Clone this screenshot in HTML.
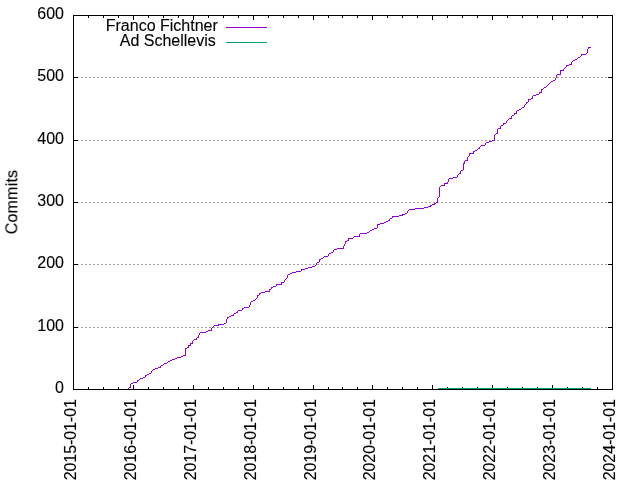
<!DOCTYPE html>
<html lang="en"><head><meta charset="utf-8"><title>Commits</title>
<style>html,body{margin:0;padding:0;background:#fff;overflow:hidden}svg{display:block}</style>
</head><body>
<svg width="640" height="480" viewBox="0 0 640 480">
<rect width="640" height="480" fill="#fff"/>
<g stroke="#a0a0a0" stroke-width="1" stroke-dasharray="2 2" shape-rendering="crispEdges">
<line x1="73" y1="327.5" x2="613" y2="327.5"/>
<line x1="73" y1="264.5" x2="613" y2="264.5"/>
<line x1="73" y1="202.5" x2="613" y2="202.5"/>
<line x1="73" y1="140.5" x2="613" y2="140.5"/>
<line x1="73" y1="77.5" x2="613" y2="77.5"/>
</g>
<g stroke="#000" stroke-width="1" fill="none" shape-rendering="crispEdges">
<rect x="73.5" y="15.5" width="539" height="374"/>
<line x1="73" y1="389.5" x2="78" y2="389.5"/>
<line x1="608" y1="389.5" x2="613" y2="389.5"/>
<line x1="73" y1="327.5" x2="78" y2="327.5"/>
<line x1="608" y1="327.5" x2="613" y2="327.5"/>
<line x1="73" y1="264.5" x2="78" y2="264.5"/>
<line x1="608" y1="264.5" x2="613" y2="264.5"/>
<line x1="73" y1="202.5" x2="78" y2="202.5"/>
<line x1="608" y1="202.5" x2="613" y2="202.5"/>
<line x1="73" y1="140.5" x2="78" y2="140.5"/>
<line x1="608" y1="140.5" x2="613" y2="140.5"/>
<line x1="73" y1="77.5" x2="78" y2="77.5"/>
<line x1="608" y1="77.5" x2="613" y2="77.5"/>
<line x1="73" y1="15.5" x2="78" y2="15.5"/>
<line x1="608" y1="15.5" x2="613" y2="15.5"/>
<line x1="73.5" y1="385" x2="73.5" y2="390"/>
<line x1="73.5" y1="15" x2="73.5" y2="20"/>
<line x1="88.5" y1="387" x2="88.5" y2="390"/>
<line x1="88.5" y1="15" x2="88.5" y2="18"/>
<line x1="103.5" y1="387" x2="103.5" y2="390"/>
<line x1="103.5" y1="15" x2="103.5" y2="18"/>
<line x1="118.5" y1="387" x2="118.5" y2="390"/>
<line x1="118.5" y1="15" x2="118.5" y2="18"/>
<line x1="133.5" y1="385" x2="133.5" y2="390"/>
<line x1="133.5" y1="15" x2="133.5" y2="20"/>
<line x1="148.5" y1="387" x2="148.5" y2="390"/>
<line x1="148.5" y1="15" x2="148.5" y2="18"/>
<line x1="163.5" y1="387" x2="163.5" y2="390"/>
<line x1="163.5" y1="15" x2="163.5" y2="18"/>
<line x1="178.5" y1="387" x2="178.5" y2="390"/>
<line x1="178.5" y1="15" x2="178.5" y2="18"/>
<line x1="193.5" y1="385" x2="193.5" y2="390"/>
<line x1="193.5" y1="15" x2="193.5" y2="20"/>
<line x1="208.5" y1="387" x2="208.5" y2="390"/>
<line x1="208.5" y1="15" x2="208.5" y2="18"/>
<line x1="223.5" y1="387" x2="223.5" y2="390"/>
<line x1="223.5" y1="15" x2="223.5" y2="18"/>
<line x1="238.5" y1="387" x2="238.5" y2="390"/>
<line x1="238.5" y1="15" x2="238.5" y2="18"/>
<line x1="253.5" y1="385" x2="253.5" y2="390"/>
<line x1="253.5" y1="15" x2="253.5" y2="20"/>
<line x1="268.5" y1="387" x2="268.5" y2="390"/>
<line x1="268.5" y1="15" x2="268.5" y2="18"/>
<line x1="283.5" y1="387" x2="283.5" y2="390"/>
<line x1="283.5" y1="15" x2="283.5" y2="18"/>
<line x1="298.5" y1="387" x2="298.5" y2="390"/>
<line x1="298.5" y1="15" x2="298.5" y2="18"/>
<line x1="313.5" y1="385" x2="313.5" y2="390"/>
<line x1="313.5" y1="15" x2="313.5" y2="20"/>
<line x1="328.5" y1="387" x2="328.5" y2="390"/>
<line x1="328.5" y1="15" x2="328.5" y2="18"/>
<line x1="342.5" y1="387" x2="342.5" y2="390"/>
<line x1="342.5" y1="15" x2="342.5" y2="18"/>
<line x1="357.5" y1="387" x2="357.5" y2="390"/>
<line x1="357.5" y1="15" x2="357.5" y2="18"/>
<line x1="372.5" y1="385" x2="372.5" y2="390"/>
<line x1="372.5" y1="15" x2="372.5" y2="20"/>
<line x1="387.5" y1="387" x2="387.5" y2="390"/>
<line x1="387.5" y1="15" x2="387.5" y2="18"/>
<line x1="402.5" y1="387" x2="402.5" y2="390"/>
<line x1="402.5" y1="15" x2="402.5" y2="18"/>
<line x1="417.5" y1="387" x2="417.5" y2="390"/>
<line x1="417.5" y1="15" x2="417.5" y2="18"/>
<line x1="432.5" y1="385" x2="432.5" y2="390"/>
<line x1="432.5" y1="15" x2="432.5" y2="20"/>
<line x1="447.5" y1="387" x2="447.5" y2="390"/>
<line x1="447.5" y1="15" x2="447.5" y2="18"/>
<line x1="462.5" y1="387" x2="462.5" y2="390"/>
<line x1="462.5" y1="15" x2="462.5" y2="18"/>
<line x1="477.5" y1="387" x2="477.5" y2="390"/>
<line x1="477.5" y1="15" x2="477.5" y2="18"/>
<line x1="492.5" y1="385" x2="492.5" y2="390"/>
<line x1="492.5" y1="15" x2="492.5" y2="20"/>
<line x1="507.5" y1="387" x2="507.5" y2="390"/>
<line x1="507.5" y1="15" x2="507.5" y2="18"/>
<line x1="522.5" y1="387" x2="522.5" y2="390"/>
<line x1="522.5" y1="15" x2="522.5" y2="18"/>
<line x1="537.5" y1="387" x2="537.5" y2="390"/>
<line x1="537.5" y1="15" x2="537.5" y2="18"/>
<line x1="552.5" y1="385" x2="552.5" y2="390"/>
<line x1="552.5" y1="15" x2="552.5" y2="20"/>
<line x1="567.5" y1="387" x2="567.5" y2="390"/>
<line x1="567.5" y1="15" x2="567.5" y2="18"/>
<line x1="582.5" y1="387" x2="582.5" y2="390"/>
<line x1="582.5" y1="15" x2="582.5" y2="18"/>
<line x1="597.5" y1="387" x2="597.5" y2="390"/>
<line x1="597.5" y1="15" x2="597.5" y2="18"/>
<line x1="612.5" y1="385" x2="612.5" y2="390"/>
<line x1="612.5" y1="15" x2="612.5" y2="20"/>
</g>
<path d="M438 388h153v1h-153z" fill="#009e73" shape-rendering="crispEdges"/>
<path d="M588 47h3v1h-3zM588 48h1v1h-1zM587 49h1v1h-1zM587 50h1v1h-1zM587 51h1v1h-1zM587 52h1v1h-1zM586 53h1v1h-1zM581 54h5v1h-5zM581 55h1v1h-1zM580 56h1v1h-1zM578 57h2v1h-2zM577 58h1v1h-1zM575 59h2v1h-2zM573 60h2v1h-2zM572 61h1v1h-1zM571 62h1v1h-1zM571 63h1v1h-1zM569 64h3v1h-3zM566 65h3v1h-3zM566 66h1v1h-1zM565 67h1v1h-1zM564 68h1v1h-1zM563 69h1v1h-1zM560 70h4v1h-4zM560 71h1v1h-1zM560 72h1v1h-1zM560 73h1v1h-1zM557 74h4v1h-4zM556 75h1v1h-1zM556 76h1v1h-1zM556 77h1v1h-1zM555 78h1v1h-1zM555 79h1v1h-1zM553 80h2v1h-2zM551 81h2v1h-2zM550 82h1v1h-1zM549 83h1v1h-1zM548 84h1v1h-1zM547 85h1v1h-1zM546 86h1v1h-1zM544 87h2v1h-2zM543 88h1v1h-1zM541 89h2v1h-2zM541 90h1v1h-1zM541 91h1v1h-1zM539 92h3v1h-3zM539 93h1v1h-1zM536 94h3v1h-3zM533 95h3v1h-3zM532 96h1v1h-1zM532 97h1v1h-1zM531 98h2v1h-2zM528 99h3v1h-3zM528 100h1v1h-1zM528 101h1v1h-1zM526 102h2v1h-2zM526 103h1v1h-1zM525 104h1v1h-1zM524 105h1v1h-1zM524 106h1v1h-1zM522 107h2v1h-2zM521 108h1v1h-1zM519 109h2v1h-2zM517 110h2v1h-2zM516 111h1v1h-1zM516 112h1v1h-1zM514 113h3v1h-3zM514 114h1v1h-1zM512 115h2v1h-2zM511 116h1v1h-1zM511 117h1v1h-1zM509 118h3v1h-3zM508 119h1v1h-1zM507 120h1v1h-1zM506 121h1v1h-1zM506 122h1v1h-1zM503 123h3v1h-3zM503 124h1v1h-1zM501 125h2v1h-2zM500 126h1v1h-1zM500 127h1v1h-1zM498 128h3v1h-3zM497 129h1v1h-1zM497 130h1v1h-1zM497 131h1v1h-1zM497 132h1v1h-1zM496 133h2v1h-2zM495 134h1v1h-1zM494 135h1v1h-1zM494 136h1v1h-1zM494 137h1v1h-1zM494 138h1v1h-1zM494 139h1v1h-1zM492 140h3v1h-3zM489 141h3v1h-3zM486 142h3v1h-3zM485 143h1v1h-1zM485 144h1v1h-1zM481 145h4v1h-4zM480 146h1v1h-1zM479 147h1v1h-1zM478 148h2v1h-2zM477 149h1v1h-1zM475 150h2v1h-2zM473 151h2v1h-2zM473 152h1v1h-1zM469 153h5v1h-5zM469 154h1v1h-1zM469 155h1v1h-1zM468 156h1v1h-1zM467 157h1v1h-1zM467 158h1v1h-1zM467 159h1v1h-1zM465 160h3v1h-3zM464 161h1v1h-1zM464 162h1v1h-1zM463 163h2v1h-2zM463 164h1v1h-1zM463 165h1v1h-1zM463 166h1v1h-1zM463 167h1v1h-1zM463 168h1v1h-1zM463 169h1v1h-1zM461 170h2v1h-2zM460 171h1v1h-1zM460 172h1v1h-1zM459 173h2v1h-2zM458 174h1v1h-1zM457 175h1v1h-1zM457 176h1v1h-1zM453 177h4v1h-4zM449 178h4v1h-4zM448 179h1v1h-1zM448 180h1v1h-1zM448 181h1v1h-1zM447 182h1v1h-1zM444 183h4v1h-4zM444 184h1v1h-1zM441 185h4v1h-4zM440 186h1v1h-1zM439 187h1v1h-1zM439 188h1v1h-1zM439 189h1v1h-1zM439 190h1v1h-1zM439 191h1v1h-1zM439 192h1v1h-1zM439 193h1v1h-1zM439 194h1v1h-1zM439 195h1v1h-1zM439 196h1v1h-1zM438 197h1v1h-1zM437 198h1v1h-1zM437 199h1v1h-1zM437 200h1v1h-1zM437 201h1v1h-1zM436 202h2v1h-2zM434 203h2v1h-2zM432 204h3v1h-3zM430 205h2v1h-2zM428 206h3v1h-3zM424 207h4v1h-4zM415 208h9v1h-9zM409 209h6v1h-6zM408 210h1v1h-1zM407 211h1v1h-1zM407 212h1v1h-1zM405 213h2v1h-2zM402 214h3v1h-3zM399 215h4v1h-4zM392 216h7v1h-7zM392 217h1v1h-1zM390 218h2v1h-2zM389 219h1v1h-1zM388 220h2v1h-2zM386 221h2v1h-2zM384 222h2v1h-2zM380 223h4v1h-4zM377 224h3v1h-3zM377 225h1v1h-1zM377 226h1v1h-1zM377 227h1v1h-1zM374 228h3v1h-3zM372 229h2v1h-2zM370 230h2v1h-2zM369 231h1v1h-1zM367 232h2v1h-2zM360 233h7v1h-7zM359 234h1v1h-1zM359 235h1v1h-1zM354 236h6v1h-6zM353 237h1v1h-1zM348 238h5v1h-5zM348 239h1v1h-1zM347 240h2v1h-2zM345 241h2v1h-2zM345 242h1v1h-1zM345 243h1v1h-1zM344 244h1v1h-1zM344 245h1v1h-1zM343 246h1v1h-1zM343 247h1v1h-1zM337 248h7v1h-7zM334 249h3v1h-3zM333 250h1v1h-1zM333 251h1v1h-1zM331 252h2v1h-2zM329 253h2v1h-2zM328 254h1v1h-1zM328 255h1v1h-1zM324 256h4v1h-4zM323 257h1v1h-1zM321 258h2v1h-2zM319 259h2v1h-2zM319 260h1v1h-1zM319 261h1v1h-1zM317 262h2v1h-2zM316 263h1v1h-1zM316 264h1v1h-1zM315 265h1v1h-1zM312 266h3v1h-3zM308 267h4v1h-4zM305 268h3v1h-3zM301 269h4v1h-4zM301 270h1v1h-1zM296 271h5v1h-5zM292 272h4v1h-4zM290 273h2v1h-2zM288 274h2v1h-2zM287 275h1v1h-1zM287 276h1v1h-1zM287 277h1v1h-1zM286 278h1v1h-1zM285 279h1v1h-1zM284 280h1v1h-1zM284 281h1v1h-1zM281 282h3v1h-3zM281 283h1v1h-1zM276 284h6v1h-6zM276 285h1v1h-1zM273 286h3v1h-3zM271 287h2v1h-2zM271 288h1v1h-1zM269 289h2v1h-2zM269 290h1v1h-1zM265 291h5v1h-5zM261 292h4v1h-4zM259 293h2v1h-2zM259 294h1v1h-1zM257 295h2v1h-2zM257 296h1v1h-1zM257 297h1v1h-1zM256 298h1v1h-1zM255 299h1v1h-1zM253 300h2v1h-2zM251 301h2v1h-2zM250 302h1v1h-1zM250 303h1v1h-1zM250 304h1v1h-1zM249 305h1v1h-1zM249 306h1v1h-1zM244 307h5v1h-5zM242 308h2v1h-2zM242 309h1v1h-1zM238 310h4v1h-4zM237 311h1v1h-1zM236 312h2v1h-2zM234 313h2v1h-2zM233 314h1v1h-1zM231 315h3v1h-3zM229 316h2v1h-2zM227 317h2v1h-2zM227 318h1v1h-1zM226 319h1v1h-1zM226 320h1v1h-1zM226 321h1v1h-1zM226 322h1v1h-1zM224 323h2v1h-2zM218 324h6v1h-6zM214 325h5v1h-5zM213 326h1v1h-1zM212 327h1v1h-1zM211 328h1v1h-1zM211 329h1v1h-1zM208 330h4v1h-4zM206 331h2v1h-2zM200 332h6v1h-6zM199 333h1v1h-1zM199 334h1v1h-1zM198 335h1v1h-1zM198 336h1v1h-1zM197 337h2v1h-2zM196 338h1v1h-1zM194 339h3v1h-3zM193 340h1v1h-1zM192 341h1v1h-1zM192 342h1v1h-1zM190 343h3v1h-3zM190 344h1v1h-1zM188 345h3v1h-3zM188 346h1v1h-1zM187 347h2v1h-2zM185 348h2v1h-2zM185 349h1v1h-1zM185 350h1v1h-1zM185 351h1v1h-1zM185 352h1v1h-1zM185 353h1v1h-1zM185 354h1v1h-1zM183 355h3v1h-3zM181 356h2v1h-2zM177 357h4v1h-4zM175 358h2v1h-2zM172 359h3v1h-3zM170 360h2v1h-2zM168 361h2v1h-2zM167 362h1v1h-1zM164 363h3v1h-3zM163 364h1v1h-1zM161 365h2v1h-2zM160 366h1v1h-1zM158 367h3v1h-3zM155 368h3v1h-3zM153 369h2v1h-2zM152 370h1v1h-1zM151 371h1v1h-1zM151 372h1v1h-1zM149 373h2v1h-2zM147 374h2v1h-2zM145 375h2v1h-2zM145 376h1v1h-1zM143 377h2v1h-2zM140 378h3v1h-3zM139 379h1v1h-1zM137 380h2v1h-2zM137 381h1v1h-1zM133 382h4v1h-4zM131 383h2v1h-2zM130 384h1v1h-1zM130 385h1v1h-1zM130 386h1v1h-1zM129 387h2v1h-2zM128 388h1v1h-1z" fill="#9400d3" shape-rendering="crispEdges"/>
<g font-family="&quot;Liberation Sans&quot;, sans-serif" font-size="16" fill="#000" stroke="#000" stroke-width="0.13" opacity="0.999">
<text x="64" y="393.3" text-anchor="end">0</text>
<text x="64" y="331.3" text-anchor="end">100</text>
<text x="64" y="268.3" text-anchor="end">200</text>
<text x="64" y="206.3" text-anchor="end">300</text>
<text x="64" y="144.3" text-anchor="end">400</text>
<text x="64" y="81.3" text-anchor="end">500</text>
<text x="64" y="19.3" text-anchor="end">600</text>
<text transform="translate(76,399.2) rotate(-90)" text-anchor="end" letter-spacing="-0.07">2015-01-01</text>
<text transform="translate(136,399.2) rotate(-90)" text-anchor="end" letter-spacing="-0.07">2016-01-01</text>
<text transform="translate(196,399.2) rotate(-90)" text-anchor="end" letter-spacing="-0.07">2017-01-01</text>
<text transform="translate(256,399.2) rotate(-90)" text-anchor="end" letter-spacing="-0.07">2018-01-01</text>
<text transform="translate(316,399.2) rotate(-90)" text-anchor="end" letter-spacing="-0.07">2019-01-01</text>
<text transform="translate(375,399.2) rotate(-90)" text-anchor="end" letter-spacing="-0.07">2020-01-01</text>
<text transform="translate(435,399.2) rotate(-90)" text-anchor="end" letter-spacing="-0.07">2021-01-01</text>
<text transform="translate(495,399.2) rotate(-90)" text-anchor="end" letter-spacing="-0.07">2022-01-01</text>
<text transform="translate(555,399.2) rotate(-90)" text-anchor="end" letter-spacing="-0.07">2023-01-01</text>
<text transform="translate(615,399.2) rotate(-90)" text-anchor="end" letter-spacing="-0.07">2024-01-01</text>
<text transform="translate(17.3,202) rotate(-90)" text-anchor="middle" letter-spacing="0.22">Commits</text>
<text x="217.8" y="30.6" text-anchor="end">Franco Fichtner</text>
<text x="215.8" y="46" text-anchor="end">Ad Schellevis</text>
</g>
<g stroke-width="1" shape-rendering="crispEdges">
<line x1="226" y1="27.5" x2="267" y2="27.5" stroke="#9400d3"/>
<line x1="226" y1="42.5" x2="267" y2="42.5" stroke="#009e73"/>
</g>
</svg>
</body></html>
